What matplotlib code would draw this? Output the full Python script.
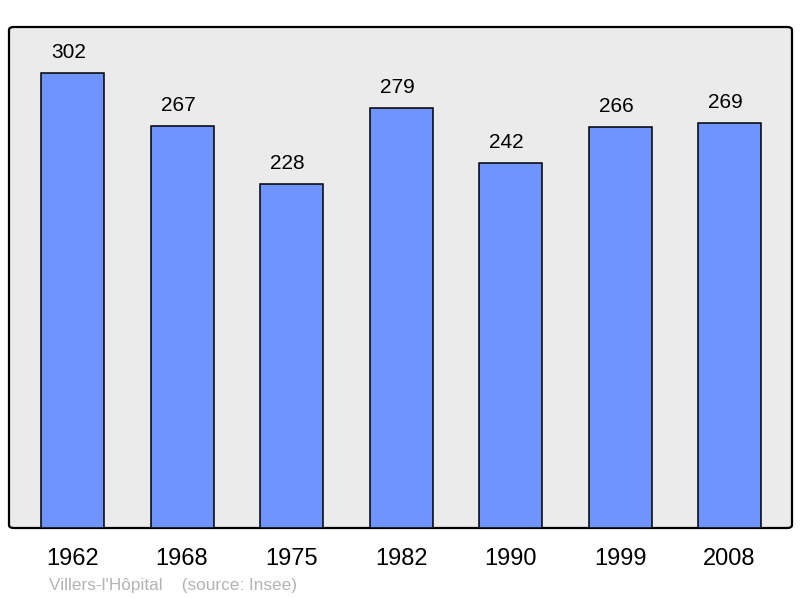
import matplotlib.pyplot as plt
from matplotlib.patches import FancyBboxPatch

plt.rcParams['font.family'] = ['Liberation Sans', 'DejaVu Sans']

## Données
years = ['1962', '1968', '1975', '1982', '1990', '1999', '2008']
population = [302, 267, 228, 279, 242, 266, 269]
commune = "Villers-l'Hôpital"
source = '(source: Insee)'

fig = plt.figure(figsize=(8, 5.98), dpi=100)
ax = fig.add_axes([9 / 800, 70 / 598, 783 / 800, 501 / 598])
ax.set_xlim(-0.58, 6.57)
ax.set_ylim(0, 332.5)
ax.axis('off')

# Fond gris avec coins arrondis
frame = FancyBboxPatch((0, 0), 1, 1, boxstyle='round,pad=0,rounding_size=0.006',
                       transform=ax.transAxes, facecolor='#ebebeb',
                       edgecolor='black', linewidth=1.6, zorder=0, clip_on=False)
ax.add_patch(frame)

x = range(len(years))
ax.bar(x, population, width=0.575, color='#7094ff', edgecolor='black',
       linewidth=1.1, zorder=2)

for i, v in enumerate(population):
    # valeurs légèrement décalées à gauche comme dans l'original
    ax.annotate(str(v), (i, v), xytext=(-2.8, 10.8), textcoords='offset points',
                ha='center', va='baseline', fontsize=15)
    ax.annotate(years[i], (i, 0), xytext=(0, -26.6), textcoords='offset points',
                ha='center', va='baseline', fontsize=17)

fig.text(49 / 800, 1 - 590 / 598, commune + '    ' + source, color='#b3b3b3',
         fontsize=12.4, ha='left', va='baseline')

plt.savefig('out.png', dpi=100)
